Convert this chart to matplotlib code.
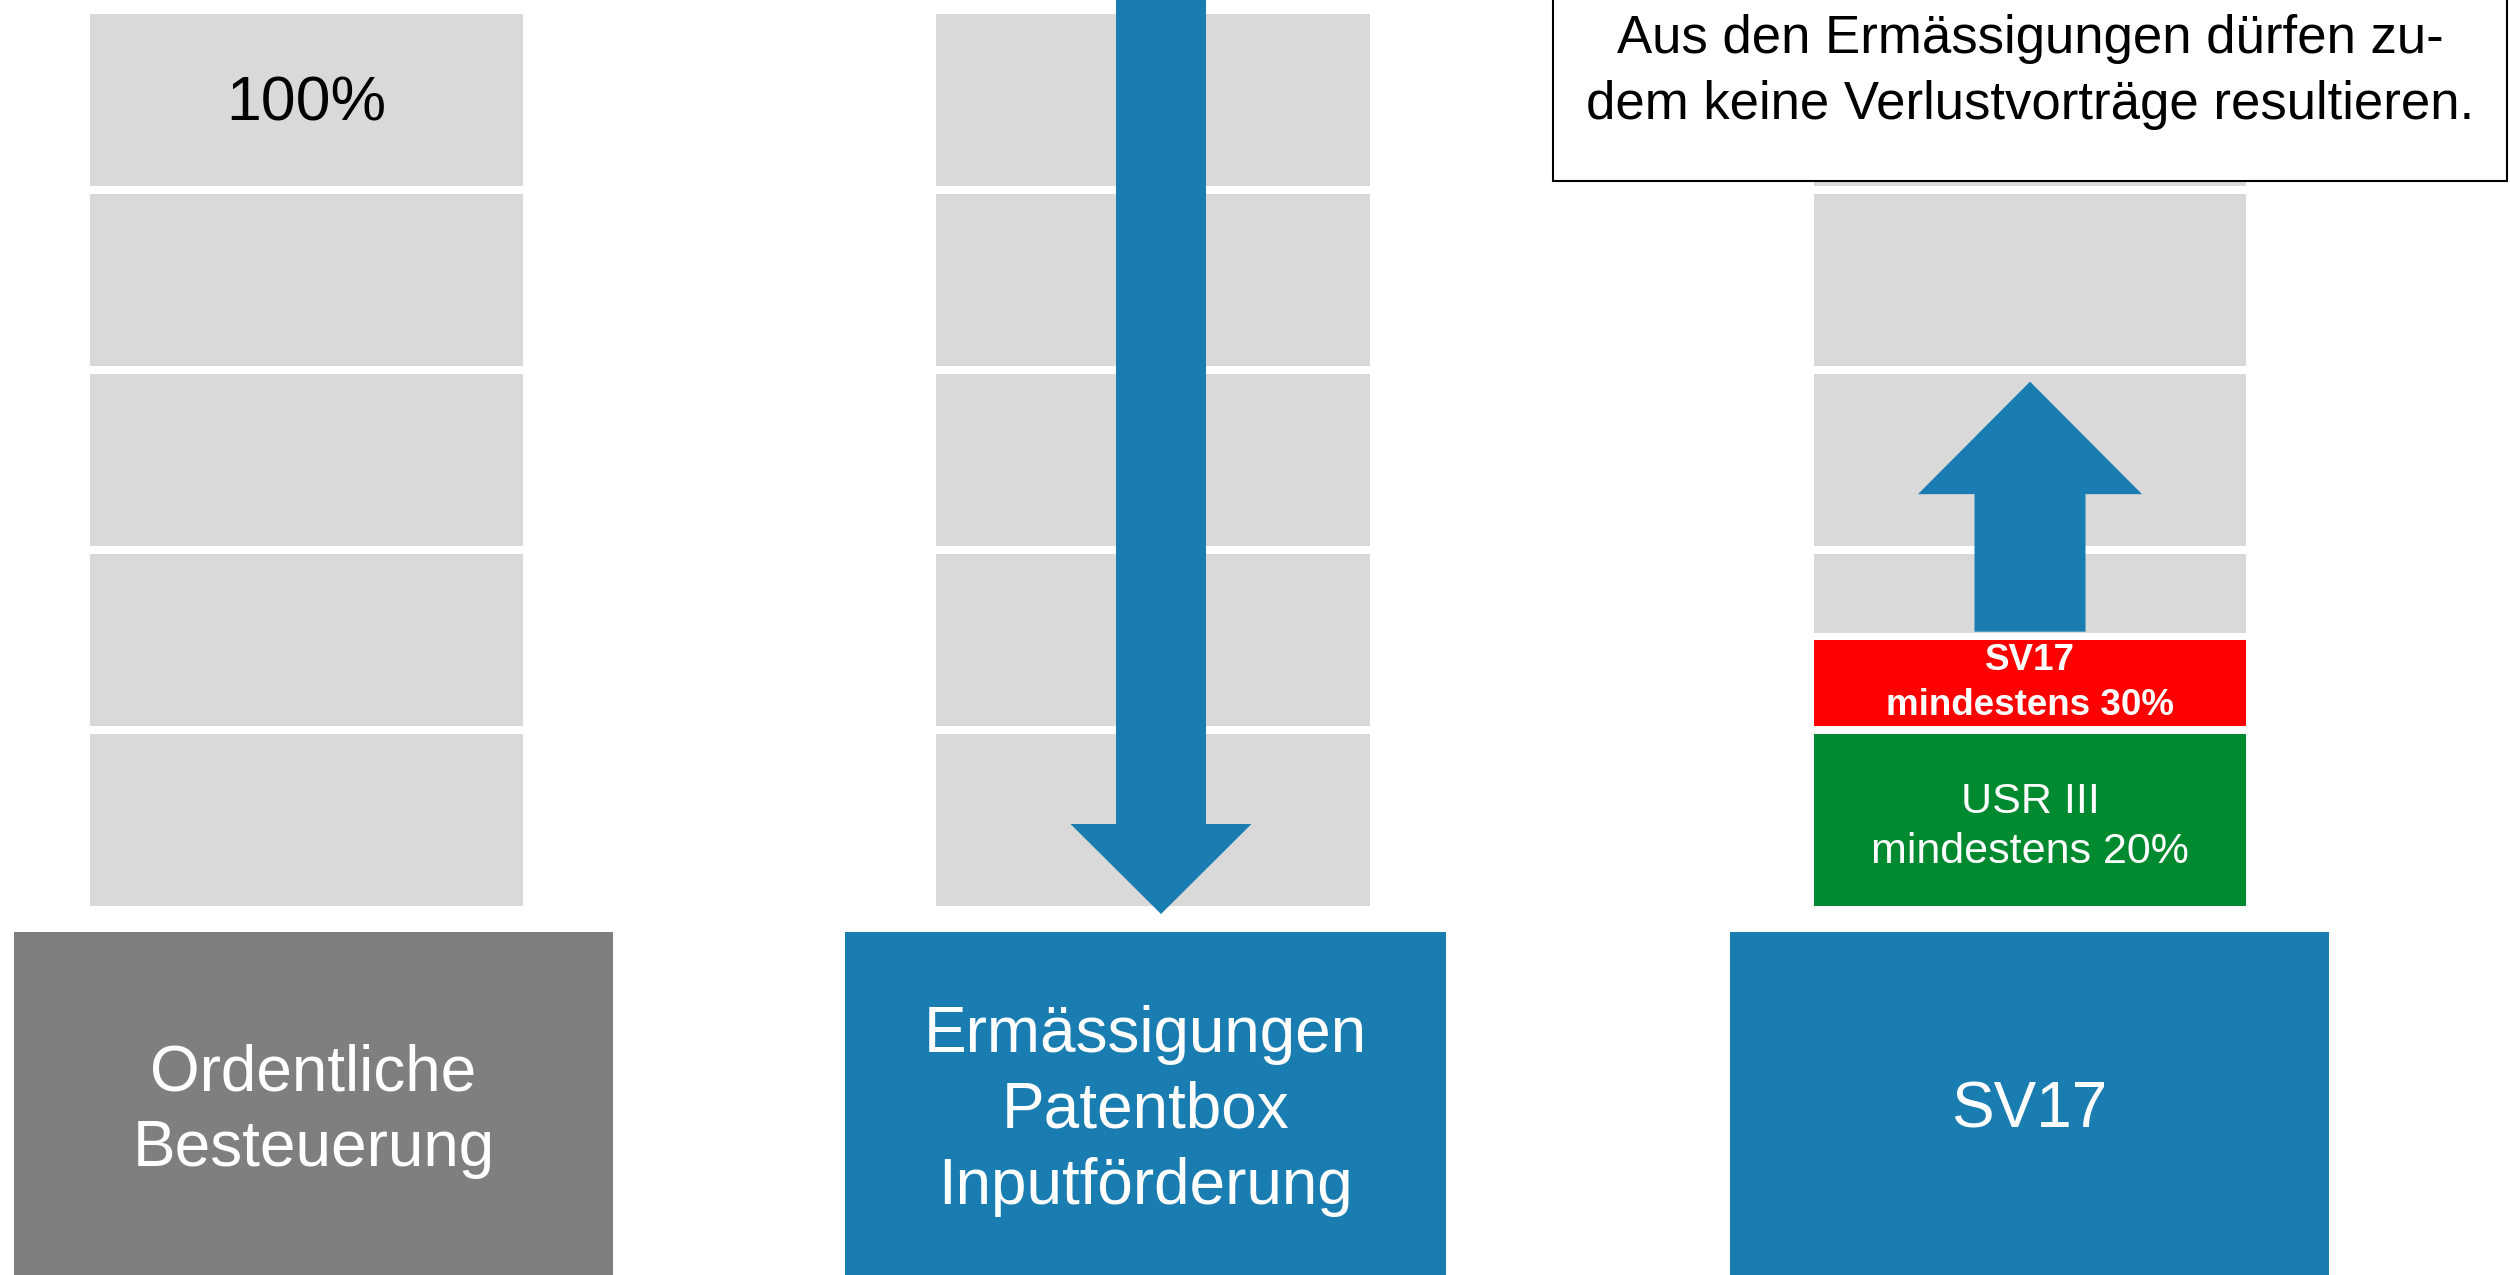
import matplotlib.pyplot as plt
from matplotlib.patches import Rectangle, FancyArrow

plt.rcParams['font.family'] = ['Liberation Sans', 'DejaVu Sans']

# Daten
box_labels = ["Ordentliche\nBesteuerung", "Ermässigungen\nPatentbox\nInputförderung", "SV17"]
box_colors = ["#7f7f7f", "#1a7db2", "#1a7db2"]
cell_pct = 20          # jede graue Zelle = 20%
total_pct = 100
usr3_min = 20          # USR III mindestens 20%
sv17_min = 30          # SV17 mindestens 30%
top_label = "100%"
note_text = "Aus den Ermässigungen dürfen zu-\ndem keine Verlustvorträge resultieren."
usr3_label = "USR III\nmindestens 20%"
sv17_label = "SV17\nmindestens 30%"

GREY = "#d9d9d9"
BLUE = "#1a7db2"
RED = "#ff0000"
GREEN = "#008a2f"

# Layout (Pixel)
W, H = 2510, 1275
stack_x = [(90, 523), (936, 1370), (1814, 2246)]
box_x = [(14, 613), (845, 1446), (1730, 2329)]
box_top = 932
base_px = 910      # y-Pixel bei 0%
px_per_pct = 9.0
gap = 7.5


def y_of(p):
    return base_px - p * px_per_pct


def seg(ax, x0, x1, lo, hi, color):
    top = y_of(hi) + gap / 2
    bot = y_of(lo) - gap / 2
    ax.add_patch(Rectangle((x0, top), x1 - x0, bot - top, facecolor=color,
                           edgecolor='none'))


fig = plt.figure(figsize=(W / 100, H / 100), dpi=100)
ax = fig.add_axes([0, 0, 1, 1])
ax.set_xlim(0, W)
ax.set_ylim(H, 0)
ax.axis('off')

# graue Zellen
for i, (x0, x1) in enumerate(stack_x):
    for lo in range(0, total_pct, cell_pct):
        hi = lo + cell_pct
        if i == 2 and hi <= usr3_min:
            seg(ax, x0, x1, lo, hi, GREEN)
        elif i == 2 and lo < sv17_min:
            seg(ax, x0, x1, sv17_min + 0.4, hi, GREY)
            seg(ax, x0, x1, lo, sv17_min + 0.4, RED)
        else:
            seg(ax, x0, x1, lo, hi, GREY)

# 100% Beschriftung
cx0 = sum(stack_x[0]) / 2
ax.text(cx0, (y_of(total_pct) + y_of(total_pct - cell_pct)) / 2 + 4, top_label,
        ha='center', va='center', fontsize=45, color='black')

# Kästen unten
for (x0, x1), label, col in zip(box_x, box_labels, box_colors):
    ax.add_patch(Rectangle((x0, box_top), x1 - x0, H + 10 - box_top,
                           facecolor=col, edgecolor='none'))
    ax.text((x0 + x1) / 2, 1111, label, ha='center', va='center',
            fontsize=46, color='white', linespacing=1.33)

# Pfeil nach unten (Mitte)
cx1 = sum(stack_x[1]) / 2 + 8
ax.add_patch(FancyArrow(cx1, -10, 0, 914 + 10, width=90, head_width=181,
                        head_length=90, length_includes_head=True,
                        facecolor=BLUE, edgecolor='none'))

# Pfeil nach oben (rechts)
cx2 = sum(stack_x[2]) / 2
ax.add_patch(FancyArrow(cx2, y_of(sv17_min + 0.4) - gap / 2 - 1, 0, -250, width=111,
                        head_width=224, head_length=112.5,
                        length_includes_head=True, facecolor=BLUE,
                        edgecolor='none'))

# Beschriftungen rot / grün
ax.text(cx2, (y_of(sv17_min) + y_of(usr3_min)) / 2 - 2, sv17_label,
        ha='center', va='center', fontsize=26.5, fontweight='bold',
        color='white', linespacing=1.35)
ax.text(cx2, (y_of(usr3_min) + y_of(0)) / 2 + 7, usr3_label,
        ha='center', va='center', fontsize=31, color='white',
        linespacing=1.35)

# Hinweis-Kasten
ax.add_patch(Rectangle((1553, -5), 2507 - 1553, 186, facecolor='white',
                       edgecolor='black', linewidth=1.5))
ax.text(2030, 72, note_text, ha='center', va='center', fontsize=38,
        color='black', linespacing=1.4)

fig.savefig("out.png", dpi=100)
